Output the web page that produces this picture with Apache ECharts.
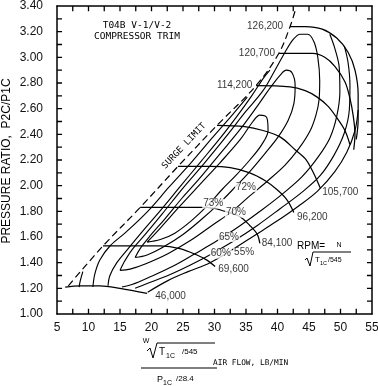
<!DOCTYPE html>
<html>
<head>
<meta charset="UTF-8">
<title>T04B V-1/V-2 compressor map</title>
<script src="https://cdn.jsdelivr.net/npm/echarts@6/dist/echarts.min.js"></script>
<style>
  html, body { margin: 0; padding: 0; background: #fff; }
  #chart { width: 378px; height: 386px; }
</style>
</head>
<body>
<div id="chart"></div>
<script>
// surge limit, [air flow lb/min, pressure ratio]
const surgeLimit = [[6.8,1.22],[12.3,1.53],[18.2,1.83],[24.2,2.15],[30.4,2.47],[36.6,2.78],[40.2,3.03],[42.0,3.24],[42.9,3.38]];

// corrected speed lines (rpm)
const speedNames = ['46,000','69,600','84,100','96,200','105,700','114,200','120,700','126,200'];
const speed46000 = [[6.3,1.21],[8.7,1.22],[11.8,1.22],[15.0,1.20],[19.3,1.16]];
const speed69600 = [[12.3,1.53],[16.6,1.53],[21.4,1.53],[24.5,1.51],[27.2,1.46],[28.8,1.42],[30.1,1.37]];
const speed84100 = [[18.2,1.83],[23.7,1.83],[28.8,1.83],[31.7,1.80],[34.0,1.76],[35.6,1.69],[36.8,1.62],[37.2,1.55]];
const speed96200 = [[24.2,2.15],[29.3,2.15],[32.5,2.14],[35.6,2.10],[38.0,2.04],[39.9,1.97],[41.5,1.89],[42.6,1.79]];
const speed105700 = [[30.4,2.47],[34.8,2.46],[37.7,2.43],[40.4,2.38],[42.8,2.28],[44.4,2.21],[45.6,2.11],[46.8,1.98]];
const speed114200 = [[36.6,2.78],[42.0,2.77],[44.4,2.74],[46.3,2.69],[48.0,2.62],[49.4,2.53],[50.7,2.43],[51.5,2.32]];
const speed120700 = [[40.2,3.03],[45.6,3.03],[47.5,3.00],[49.1,2.93],[50.7,2.81],[51.5,2.68],[52.0,2.55],[52.3,2.40],[52.1,2.28]];
const speed126200 = [[42.0,3.24],[44.4,3.24],[47.1,3.22],[49.4,3.15],[51.2,3.04],[52.3,2.90],[52.8,2.71],[52.8,2.51],[52.5,2.36]];
const speedLines = [speed46000, speed69600, speed84100, speed96200, speed105700, speed114200, speed120700, speed126200];

// efficiency islands (closed) and the outer contours cut by the map edges
const eff73 = [[19.3,1.56],[21.4,1.67],[24.5,1.84],[27.7,2.01],[30.9,2.18],[34.1,2.36],[36.1,2.50],[37.2,2.55],[38.3,2.53],[38.5,2.43],[37.5,2.32],[35.6,2.20],[33.4,2.08],[31.2,1.97],[29.0,1.85],[26.4,1.73],[23.7,1.63],[21.4,1.58],[19.3,1.56]];
const eff72 = [[17.4,1.44],[18.2,1.51],[19.8,1.61],[22.1,1.74],[24.8,1.90],[27.7,2.06],[30.9,2.25],[34.1,2.44],[36.8,2.62],[38.8,2.76],[40.4,2.86],[41.4,2.90],[42.3,2.88],[42.8,2.78],[42.6,2.64],[41.7,2.51],[40.1,2.38],[38.0,2.25],[35.6,2.11],[33.3,1.99],[30.7,1.86],[28.0,1.74],[25.0,1.62],[21.8,1.52],[19.3,1.46],[17.4,1.44]];
const eff70 = [[15.0,1.34],[15.6,1.40],[16.9,1.50],[19.0,1.62],[21.7,1.78],[24.8,1.97],[28.3,2.17],[31.8,2.38],[35.0,2.58],[37.7,2.74],[39.6,2.90],[41.2,3.04],[42.5,3.14],[43.6,3.18],[44.8,3.18],[45.8,3.12],[46.4,3.00],[46.7,2.82],[46.6,2.67],[46.1,2.55],[45.2,2.43],[43.4,2.29],[41.2,2.16],[38.5,2.04],[35.6,1.92],[32.8,1.80],[29.6,1.69],[26.1,1.57],[22.6,1.47],[19.0,1.39],[16.6,1.35],[15.0,1.34]];
const eff65Left = [[13.1,1.22],[13.4,1.30],[14.5,1.40],[16.3,1.51],[18.5,1.64],[21.3,1.80],[24.5,1.99],[27.7,2.18],[30.9,2.37],[33.7,2.55],[35.9,2.70],[37.8,2.84],[38.8,2.90]];
const eff65Right = [[48.3,3.18],[49.1,3.07],[49.8,2.92],[49.9,2.73],[49.4,2.54],[48.3,2.37],[46.4,2.22],[43.9,2.07],[40.9,1.94],[37.5,1.81],[34.1,1.69],[30.4,1.57],[26.9,1.47],[23.3,1.37],[19.8,1.29],[16.9,1.23],[15.3,1.21]];
const eff60Left = [[10.7,1.21],[11.0,1.31],[11.8,1.42],[13.4,1.53],[16.0,1.64],[19.4,1.80],[22.8,1.99],[26.3,2.18],[29.6,2.37],[32.8,2.55],[35.2,2.69]];
const eff60Right = [[50.6,3.09],[51.2,2.96],[51.5,2.78],[51.4,2.59],[50.6,2.41],[49.0,2.24],[46.8,2.08],[43.9,1.95],[40.4,1.82],[36.8,1.69],[33.1,1.57],[29.6,1.47],[26.1,1.38],[22.6,1.30],[19.4,1.24],[17.4,1.20]];
const eff55Left = [[8.5,1.21],[8.7,1.26],[9.1,1.33]];
const eff55Right = [[52.8,2.59],[52.3,2.43],[51.0,2.26],[49.1,2.11],[46.4,1.96],[43.3,1.84],[39.8,1.72],[36.3,1.61],[32.8,1.50],[29.3,1.40],[25.8,1.33],[22.6,1.26],[19.4,1.17]];
const effNames = ['73%','72%','70%','65%','60%','55%'];

// where the labels sit (data units)
const speedLabelAt = [[20.6,1.14],[30.6,1.35],[37.5,1.55],[43.1,1.755],[47.1,1.95],[36.0,2.78],[39.6,3.03],[40.9,3.24]];
const effLabelAt = [[29.8,1.86],[35.0,1.99],[33.4,1.79],[32.3,1.60],[31.0,1.47],[34.7,1.48]];

// axis ticks: every 2.5 lb/min and every 0.1 of pressure ratio
const xTickValues = [];
for (let v = 7.5; v < 55; v += 2.5) xTickValues.push(v);
const yTickValues = [];
for (let i = 11; i < 34; i++) yTickValues.push(i / 10);

const ink = '#000';
const sans = 'Liberation Sans';
const mono = 'DejaVu Sans Mono';

function curve(data, extra) {
    return Object.assign({
        type: 'line',
        data: data,
        smooth: 0.35,
        symbol: 'none',
        silent: true,
        lineStyle: { color: ink, width: 1.25 },
        z: 3
    }, extra || {});
}

const series = [];
series.push(curve(surgeLimit, { lineStyle: { color: ink, width: 1.2, type: [7, 4] } }));
speedLines.forEach(d => series.push(curve(d)));
[eff73, eff72, eff70, eff65Left, eff65Right, eff60Left, eff60Right, eff55Left, eff55Right]
    .forEach(d => series.push(curve(d, { lineStyle: { color: ink, width: 1.15 } })));

// speed labels: the top three end at the surge line, the rest start at the line ends
series.push({
    type: 'scatter',
    symbolSize: 0,
    silent: true,
    z: 5,
    data: speedNames.map((n, i) => ({
        value: speedLabelAt[i],
        name: n,
        label: { align: i >= 5 ? 'right' : 'left' }
    })),
    label: {
        show: true, position: [0, 0], formatter: '{b}', verticalAlign: 'middle',
        fontFamily: sans, fontSize: 10, color: ink
    }
});
series.push({
    type: 'scatter',
    symbolSize: 0,
    silent: true,
    z: 6,
    data: effNames.map((n, i) => ({ value: effLabelAt[i], name: n })),
    label: {
        show: true, position: [0, 0], formatter: '{b}', align: 'center', verticalAlign: 'middle',
        fontFamily: sans, fontSize: 10, color: ink, backgroundColor: '#fff', padding: [0, 1]
    }
});

// inward tick marks on the four sides of the frame, as short line pieces (about 5 px)
const tickDx = 0.8, tickDy = 0.04;
function tickLine(a, b) {
    return { type: 'line', data: [a, b], symbol: 'none', silent: true, z: 4,
             lineStyle: { color: ink, width: 1.3 } };
}
xTickValues.forEach(v => {
    series.push(tickLine([v, 1.0], [v, 1.0 + tickDy]));
    series.push(tickLine([v, 3.4], [v, 3.4 - tickDy]));
});
yTickValues.forEach(v => {
    series.push(tickLine([5, v], [5 + tickDx, v]));
    series.push(tickLine([55, v], [55 - tickDx, v]));
});

function txt(x, y, text, font, align, rotation) {
    return {
        type: 'text', x: x, y: y, rotation: rotation || 0, silent: true, z: 10,
        style: { text: text, font: font, fill: ink, align: align || 'left', textAlign: align || 'left',
                 verticalAlign: 'middle', textVerticalAlign: 'middle' }
    };
}
function poly(points, width, color) {
    return {
        type: 'polyline', silent: true, z: 10,
        shape: { points: points },
        style: { stroke: color || ink, lineWidth: width || 1, fill: null }
    };
}

const graphic = [
    txt(137, 26, 'T04B V-1/V-2', '9.5px ' + mono, 'center'),
    txt(137, 37, 'COMPRESSOR TRIM', '9.5px ' + mono, 'center'),
    txt(184, 146, 'SURGE LIMIT', '9px ' + mono, 'center', 46.5 * Math.PI / 180),
    txt(7, 161, 'PRESSURE RATIO,  P2C/P1C', '12px ' + sans, 'center', Math.PI / 2),
    // RPM = N / sqrt(T1C/545)
    txt(297, 246, 'RPM=', '10px ' + sans),
    txt(339, 245, 'N', '7px ' + sans, 'center'),
    poly([[305, 260], [307, 258], [310, 266], [313, 252], [351, 252]], 1),
    txt(315, 260, 'T', '8px ' + sans),
    txt(320, 263, '1C', '5.5px ' + sans),
    txt(328, 260, '/545', '7px ' + sans),
    // x axis title
    txt(146, 341, 'W', '7px ' + sans, 'center'),
    poly([[147, 351], [150, 348], [153, 358], [157, 343], [215, 343]], 1),
    txt(159, 352, 'T', '10px ' + sans),
    txt(166, 356, '1C', '7px ' + sans),
    txt(182, 352, '/545', '8px ' + sans),
    poly([[141, 368], [217, 368]], 1.6, '#555'),
    txt(157, 380, 'P', '9px ' + sans),
    txt(163, 383, '1C', '7px ' + sans),
    txt(176, 379, '/28.4', '8px ' + sans),
    txt(213, 363, 'AIR FLOW, LB/MIN', '7.8px ' + mono)
];

const labelStyle = { fontFamily: sans, fontSize: 12, color: '#111' };

function frameAxis(pos, withLabels) {
    return {
        type: 'value', position: pos,
        axisLine: { show: true, onZero: false, lineStyle: { color: ink, width: 1.5 } },
        axisTick: { show: false },
        splitLine: { show: false },
        axisLabel: withLabels ? Object.assign({}, labelStyle) : { show: false }
    };
}

const xBottom = Object.assign(frameAxis('bottom', true), { min: 5, max: 55, interval: 5 });
xBottom.axisLabel.margin = 8;
const xTop = Object.assign(frameAxis('top', false), { min: 5, max: 55, interval: 5 });
const yLeft = Object.assign(frameAxis('left', true), { min: 1.0, max: 3.4, interval: 0.2 });
yLeft.axisLabel.margin = 14;
yLeft.axisLabel.formatter = v => v.toFixed(2);
const yRight = Object.assign(frameAxis('right', false), { min: 1.0, max: 3.4, interval: 0.2 });

const option = {
    animation: false,
    backgroundColor: '#fff',
    grid: { left: 57, right: 6, top: 6, bottom: 72, containLabel: false, outerBoundsMode: 'none' },
    xAxis: [xBottom, xTop],
    yAxis: [yLeft, yRight],
    series: series,
    graphic: graphic
};

const chart = echarts.init(document.getElementById('chart'));
chart.setOption(option);
</script>
</body>
</html>
